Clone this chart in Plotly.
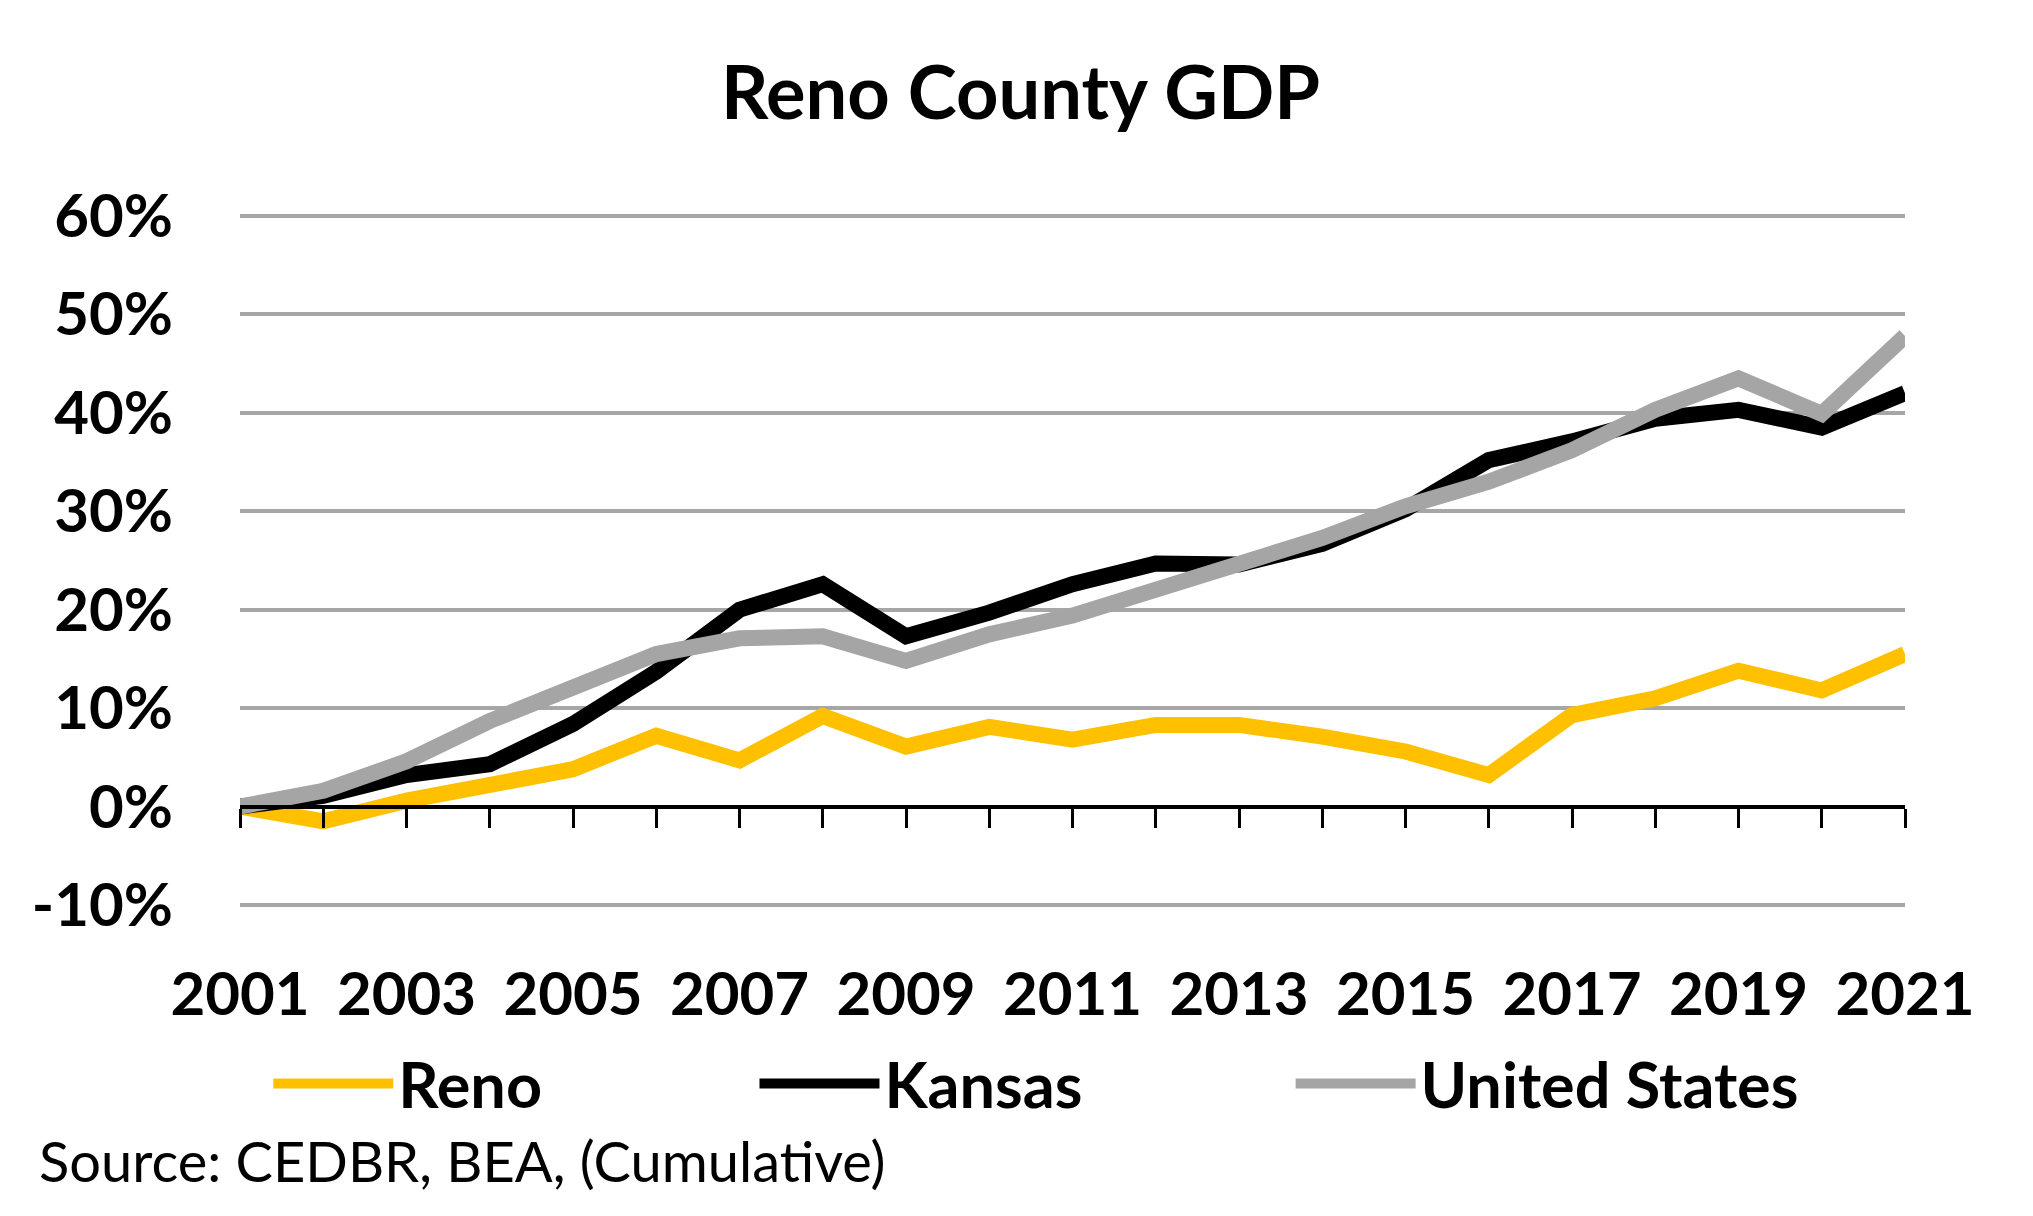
import plotly.graph_objects as go

# cumulative GDP growth since 2001, in percent
years = list(range(2001, 2022))
reno = [0.0, -1.5, 0.6, 2.2, 3.8, 7.2, 4.7, 9.2, 6.1, 8.1, 6.8, 8.3, 8.3, 7.1, 5.6, 3.2, 9.3, 11.0, 13.8, 11.8, 15.5]
kansas = [0.0, 1.1, 3.2, 4.3, 8.4, 13.7, 20.0, 22.6, 17.3, 19.7, 22.6, 24.7, 24.6, 26.7, 30.2, 35.2, 37.1, 39.4, 40.3, 38.5, 42.0]
united_states = [0.0, 1.6, 4.6, 8.7, 12.1, 15.5, 17.1, 17.3, 14.8, 17.5, 19.4, 22.1, 24.8, 27.3, 30.5, 33.0, 36.2, 40.3, 43.5, 39.9, 47.8]

x_labels = [str(y) if (y - years[0]) % 2 == 0 else "" for y in years]
y_ticks = [-10, 0, 10, 20, 30, 40, 50, 60]
y_labels = [f"{v}%" for v in y_ticks]
y_min, y_max = -10.2, 60.2

# page has an 8px body margin, so the figure is a bit smaller than the window
W, H = 2025, 1208
ml, mr, mt, mb = 232, 128, 206, 309
plot_w, plot_h = W - ml - mr, H - mt - mb

bold = dict(family="Lato", color="black", weight="bold")

fig = go.Figure()
series = [("Reno", reno, "#FFC000", "legend"),
          ("Kansas", kansas, "#000000", "legend2"),
          ("United States", united_states, "#A5A5A5", "legend3")]
for name, vals, col, lg in series:
    fig.add_trace(go.Scatter(x=years, y=vals, name=name, mode="lines",
                             line=dict(color=col, width=16), legend=lg))

fig.update_layout(
    width=W, height=H,
    margin=dict(l=ml, r=mr, t=mt, b=mb, autoexpand=False),
    paper_bgcolor="white", plot_bgcolor="white",
    title=dict(text="Reno County GDP", x=0.5, xanchor="center", y=1 - 85 / H, yanchor="middle",
               font=dict(size=74, **bold)),
    xaxis=dict(range=[years[0], years[-1]], tickvals=years, ticktext=x_labels,
               anchor="free", position=(0 - y_min) / (y_max - y_min),
               showgrid=False, zeroline=False, showline=True, linecolor="black", linewidth=4,
               ticks="outside", ticklen=19, tickwidth=3, tickcolor="black",
               tickfont=dict(size=60, **bold), ticklabelstandoff=115),
    yaxis=dict(range=[y_min, y_max], tickvals=y_ticks, ticktext=y_labels,
               showgrid=True, gridcolor="#A6A6A6", gridwidth=4, zeroline=False,
               showline=False, ticks="", tickfont=dict(size=60, **bold), ticklabelstandoff=66),
    showlegend=True,
)

leg_common = dict(orientation="h", yanchor="middle", y=-0.2546, xanchor="left",
                  font=dict(size=63, **bold), itemwidth=120, bgcolor="rgba(0,0,0,0)")
fig.update_layout(
    legend=dict(x=0.017, **leg_common),
    legend2=dict(x=0.309, **leg_common),
    legend3=dict(x=0.631, **leg_common),
)

fig.add_annotation(text="Source: CEDBR, BEA, (Cumulative)", xref="paper", yref="paper",
                   x=-203 / plot_w, y=-(1152 - (H - mb)) / plot_h,
                   xanchor="left", yanchor="middle", showarrow=False,
                   font=dict(family="Lato", size=56, color="black"))

fig.write_html("out.html")
